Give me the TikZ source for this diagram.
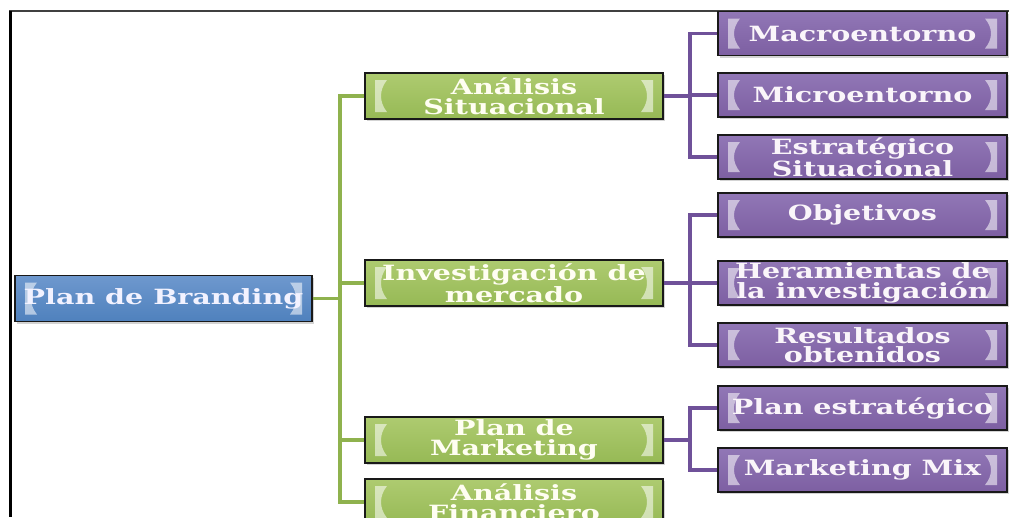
\documentclass[tikz,border=0pt]{standalone}
\usepackage{fontspec}
\newfontfamily\boxfont{DejaVu Serif}[FakeStretch=1.36]
\usetikzlibrary{shadows,calc}

\definecolor{rootfill}{HTML}{4F81BD}
\definecolor{roottop}{HTML}{6E98CE}
\definecolor{greenfill}{HTML}{96B955}
\definecolor{greentop}{HTML}{AECB70}
\definecolor{purplefill}{HTML}{7D5FA2}
\definecolor{purpletop}{HTML}{9177B6}
\definecolor{greenline}{HTML}{8FB24E}
\definecolor{purpleline}{HTML}{6F5199}

\tikzset{
  x=1pt, y=-1pt,
  % light bracket-like highlights on both inner sides of a box
  sidemarks/.style={
    path picture={
      \fill[white,opacity=.55]
        let \p1=(path picture bounding box.north west),
            \p2=(path picture bounding box.south east) in
        (\x1+10pt,\y1-7pt) -- (\x1+10pt,\y2+7pt) -- (\x1+22pt,\y2+7pt)
          .. controls (\x1+14pt,\y2+17pt) and (\x1+14pt,\y1-17pt) .. (\x1+22pt,\y1-7pt) -- cycle
        (\x2-10pt,\y1-7pt) -- (\x2-10pt,\y2+7pt) -- (\x2-22pt,\y2+7pt)
          .. controls (\x2-14pt,\y2+17pt) and (\x2-14pt,\y1-17pt) .. (\x2-22pt,\y1-7pt) -- cycle;
    }
  },
  box/.style={
    rectangle, draw=black!90, line width=1.4pt, inner sep=0pt, align=center,
    font=\boxfont\bfseries\fontsize{21}{19.5}\selectfont,
    drop shadow={shadow xshift=2pt, shadow yshift=-2pt, opacity=.35},
    sidemarks
  },
  rootbox/.style={box, minimum width=297pt, minimum height=46pt,
    top color=roottop, bottom color=rootfill, text=blue!5},
  greenbox/.style={box, minimum width=298pt, minimum height=46pt,
    top color=greentop, bottom color=greenfill, text=yellow!5},
  purplebox/.style={box, minimum width=289pt, minimum height=44pt,
    top color=purpletop, bottom color=purplefill, text=violet!4},
  gline/.style={draw=greenline, line width=3.5pt},
  pline/.style={draw=purpleline, line width=3.5pt},
}

\begin{document}
\begin{tikzpicture}
\clip (0,0) rectangle (1009,517);

% open frame: top and left edges
\draw[black!75, line width=2pt] (9,11) -- (1009,11);
\draw[black, line width=3pt] (10,11) -- (10,517);

% trunk positions
\coordinate (gx) at (340,0);
\coordinate (px) at (690,0);

% root
\node[rootbox] (root) at (163.5,298.5) {Plan de Branding};

% second level
\node[greenbox] (as) at (514,96)  {Análisis\\Situacional};
\node[greenbox] (im) at (514,283) {Investigación de\\mercado};
\node[greenbox] (pm) at (514,440) {Plan de\\Marketing};
\node[greenbox] (af) at (514,502) {Análisis\\Financiero};

% third level
\node[purplebox] (macro) at (862.5,33.5) {Macroentorno};
\node[purplebox] (micro) at (862.5,95)   {Microentorno};
\node[purplebox] (estr)  at (862.5,157)  {Estratégico\\Situacional};
\node[purplebox] (obj)   at (862.5,215)  {Objetivos};
\node[purplebox] (her)   at (862.5,283)  {Heramientas de\\la investigación};
\node[purplebox] (res)   at (862.5,345)  {Resultados\\obtenidos};
\node[purplebox] (pe)    at (862.5,408)  {Plan estratégico};
\node[purplebox] (mm)    at (862.5,470)  {Marketing Mix};

% green connectors
\draw[gline] (as.west) -- (as.west -| gx) -- (af.west -| gx) -- (af.west);
\draw[gline] (root.east) -- (root.east -| gx);
\draw[gline] (im.west) -- (im.west -| gx);
\draw[gline] (pm.west) -- (pm.west -| gx);

% purple connectors
\draw[pline] (as.east) -- (as.east -| px);
\draw[pline] (macro.west) -- (macro.west -| px) -- (estr.west -| px) -- (estr.west);
\draw[pline] (micro.west) -- (micro.west -| px);
\draw[pline] (im.east) -- (im.east -| px);
\draw[pline] (obj.west) -- (obj.west -| px) -- (res.west -| px) -- (res.west);
\draw[pline] (her.west) -- (her.west -| px);
\draw[pline] (pm.east) -- (pm.east -| px);
\draw[pline] (pe.west) -- (pe.west -| px) -- (mm.west -| px) -- (mm.west);
\end{tikzpicture}
\end{document}
